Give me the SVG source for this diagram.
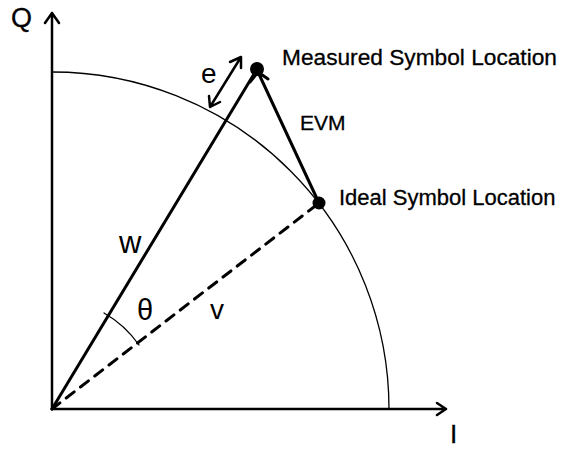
<svg xmlns="http://www.w3.org/2000/svg" width="562" height="449" viewBox="0 0 562 449">
<style>
.t{font-family:"Liberation Sans",Arial,sans-serif;fill:#000}
.ln{stroke:#000;fill:none;stroke-linecap:round;stroke-linejoin:round}
</style>
<rect width="562" height="449" fill="#fff"/>
<g id="connectors">
<path id="arc" class="ln" stroke-width="1.3" d="M52,72 A337,337 0 0 1 389,409"/>
<path id="q-axis" class="ln" stroke-width="2.5" d="M52,409 L52,13 M45,23 L52,13 L59,23"/>
<path id="i-axis" class="ln" stroke-width="2.5" d="M52,409 L446,409 M437,403 L446,409 L437,415"/>
<path id="w-line" class="ln" stroke-width="3" d="M52,409 L257,69"/>
<path id="v-line" class="ln" stroke-width="3" stroke-dasharray="10,8" d="M52,409 L319,203"/>
<path id="evm-line" class="ln" stroke-width="3" d="M319,203 L258,72 M250,82 L258,72 L268,79"/>
<path id="e-arrow" class="ln" stroke-width="2.5" d="M210,107 L241,57 M209,96 L210,107 L220,102 M230,62 L241,57 L241,68"/>
<path id="theta-arc" class="ln" stroke-width="1.3" d="M104,313 A108,108 0 0 1 139,345"/>
</g>
<g id="measured">
<circle cx="257" cy="69" r="7"/>
<text class="t" x="282" y="65" font-size="22.7" stroke="#000" stroke-width="0.3">Measured Symbol Location</text>
</g>
<g id="ideal">
<circle cx="319" cy="203" r="6.5"/>
<text class="t" x="339" y="205" font-size="22" stroke="#000" stroke-width="0.3">Ideal Symbol Location</text>
</g>
<g id="labels">
<text class="t" x="300" y="130" font-size="21" stroke="#000" stroke-width="0.3">EVM</text>
<text class="t" x="11" y="27" font-size="27" stroke="#000" stroke-width="0.3">Q</text>
<text class="t" x="450" y="443" font-size="26" stroke="#000" stroke-width="0.3">I</text>
<text class="t" x="201" y="83" font-size="28">e</text>
<text class="t" x="119" y="253" font-size="31">w</text>
<text class="t" x="137" y="320" font-size="29">θ</text>
<text class="t" x="210" y="319" font-size="28">v</text>
</g>
</svg>
